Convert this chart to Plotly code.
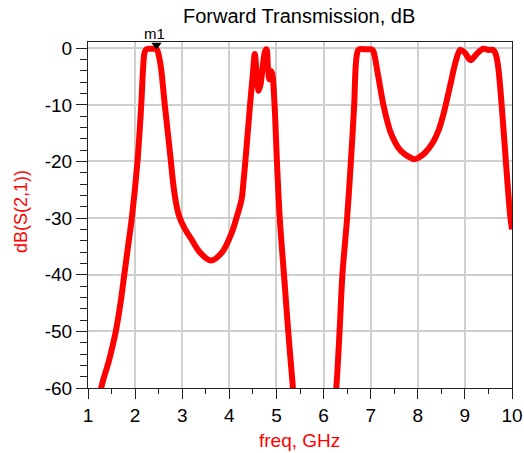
import plotly.graph_objects as go

# Data (freq in GHz, S21 in dB)
freq = [1.20, 1.28, 1.45, 1.59, 1.69, 1.77, 1.85, 1.93, 2.05, 2.13, 2.17, 2.20, 2.24, 2.35, 2.46, 2.50, 2.55,
        2.63, 2.76, 2.80, 2.85, 2.90, 2.95, 3.05, 3.20, 3.38, 3.61, 3.84, 4.05, 4.15, 4.26, 4.30, 4.34, 4.44,
        4.50, 4.54, 4.58, 4.62, 4.66, 4.72, 4.76, 4.79, 4.82, 4.85, 4.88, 4.91, 4.96,
        5.01, 5.07, 5.16, 5.25, 5.35, 5.50, 6.10, 6.27, 6.34, 6.40, 6.50, 6.58,
        6.65, 6.68, 6.71, 6.75, 6.90, 7.04, 7.08, 7.13, 7.20, 7.27, 7.35, 7.43, 7.59,
        7.72, 7.84, 7.92, 8.00, 8.15, 8.33, 8.45, 8.54, 8.69, 8.80, 8.90, 9.00, 9.12,
        9.25, 9.39, 9.50, 9.60, 9.66, 9.71, 9.78, 9.87, 9.96, 10.00]
s21_db = [-65.0, -60.0, -55.0, -50.0, -45.0, -40.0, -35.0, -30.0, -20.0, -10.0, -3.5, -0.8, -0.2, -0.1, -0.2, -1.2, -3.5,
          -10.0, -20.0, -23.3, -26.4, -28.6, -30.0, -31.8, -33.8, -36.1, -37.5, -36.1, -32.6, -30.0, -26.7, -23.6, -20.0, -10.0,
          -4.5, -1.0, -4.5, -7.5, -6.5, -2.5, -0.5, -0.2, -3.5, -5.5, -4.0, -4.5, -10.0,
          -20.0, -30.0, -40.0, -50.0, -60.0, -75.0, -75.0, -60.0, -50.0, -40.0, -30.0, -20.0,
          -10.0, -3.5, -1.0, -0.2, -0.2, -0.3, -1.2, -3.5, -6.8, -10.0, -12.8, -15.0, -17.6,
          -18.7, -19.3, -19.6, -19.4, -18.5, -16.5, -14.3, -11.8, -6.5, -2.5, -0.3, -0.8, -2.1,
          -1.0, -0.1, -0.3, -0.3, -1.2, -3.5, -10.0, -20.0, -29.4, -32.0]

marker_freq = [2.454]
marker_db = [0.55]
marker_label = "m1"

x_tickvals = [1, 2, 3, 4, 5, 6, 7, 8, 9, 10]
x_ticktext = ["1", "2", "3", "4", "5", "6", "7", "8", "9", "10"]
y_tickvals = [0, -10, -20, -30, -40, -50, -60]
y_ticktext = ["0", "-10", "-20", "-30", "-40", "-50", "-60"]

title_text = "Forward Transmission, dB"
x_title = "freq, GHz"
y_title = "dB(S(2,1))"

FONT = "Liberation Sans, Arial, sans-serif"
W, H = 524, 453
L, R, T, B = 88, 12, 42, 65
PW, PH = W - L - R, H - T - B

def px_x(p):
    # pixel column -> paper coordinate (paper = plot area)
    return (p - L) / PW

def px_y(p):
    # pixel row -> paper coordinate
    return (H - B - p) / PH

fig = go.Figure()
fig.add_trace(go.Scatter(
    x=freq, y=s21_db, mode="lines",
    line=dict(color="#ff0000", width=6, shape="spline", smoothing=0.9),
    hoverinfo="x+y", showlegend=False,
))
fig.add_trace(go.Scatter(
    x=marker_freq, y=marker_db, mode="markers",
    marker=dict(symbol="triangle-down", size=9, color="black", line=dict(width=0)),
    cliponaxis=False, showlegend=False,
))

fig.update_layout(
    width=W, height=H,
    margin=dict(l=L, r=R, t=T, b=B, autoexpand=False),
    paper_bgcolor="white", plot_bgcolor="white",
    font=dict(family=FONT, size=18, color="black"),
    showlegend=False,
    annotations=[
        dict(text=title_text, xref="paper", yref="paper", x=px_x(299), y=px_y(16),
             xanchor="center", yanchor="middle", showarrow=False,
             font=dict(family=FONT, size=20, color="black")),
        dict(text=x_title, xref="paper", yref="paper", x=px_x(299), y=px_y(440),
             xanchor="center", yanchor="middle", showarrow=False,
             font=dict(family=FONT, size=19, color="#ff0000")),
        dict(text=y_title, xref="paper", yref="paper", x=px_x(21), y=px_y(212),
             xanchor="center", yanchor="middle", showarrow=False, textangle=-90,
             font=dict(family=FONT, size=18, color="#ff0000")),
        dict(text=marker_label, xref="paper", yref="paper", x=px_x(154), y=px_y(33),
             xanchor="center", yanchor="middle", showarrow=False,
             font=dict(family=FONT, size=15, color="black")),
    ],
)
fig.update_xaxes(
    range=[1, 10], tickvals=x_tickvals, ticktext=x_ticktext, automargin=False,
    showgrid=True, gridcolor="#cfcfcf", gridwidth=1.5,
    showline=True, linecolor="#222222", linewidth=1, mirror=True,
    ticks="outside", ticklen=10, tickcolor="#222222", tickwidth=1,
    minor=dict(dtick=0.5, ticks="outside", ticklen=5, tickcolor="#222222", showgrid=False),
    tickfont=dict(family=FONT, size=19, color="black"),
    zeroline=False,
)
fig.update_yaxes(
    range=[-60, 1.1], tickvals=y_tickvals, ticktext=y_ticktext, automargin=False,
    showgrid=True, gridcolor="#cfcfcf", gridwidth=1.5,
    showline=True, linecolor="#222222", linewidth=1, mirror=True,
    ticks="outside", ticklen=11, tickcolor="#222222", tickwidth=1,
    minor=dict(dtick=2, ticks="outside", ticklen=7, tickcolor="#222222", showgrid=False),
    tickfont=dict(family=FONT, size=19, color="black"),
    zeroline=False,
)

fig.write_html("out.html")
